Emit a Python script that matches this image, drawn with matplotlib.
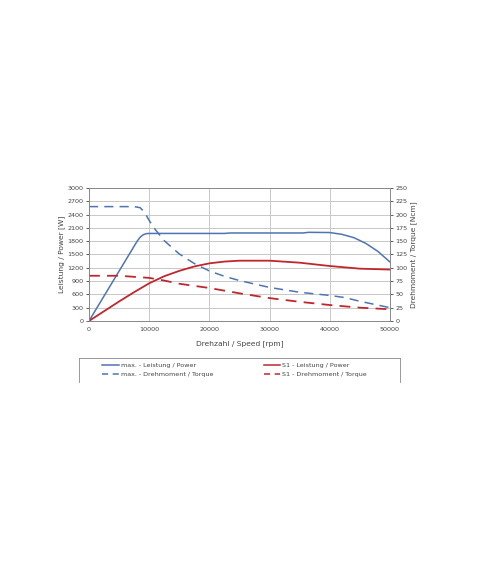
import matplotlib
matplotlib.use('Agg')
import matplotlib.pyplot as plt
from matplotlib.lines import Line2D

# max. power [W]
max_p_rpm = [0, 8000, 8500, 9000, 9500, 10000, 22500, 23500, 35500, 36500, 40000, 42000, 44000, 46000, 48000, 50000]
max_p = [0, 1800, 1890, 1945, 1970, 1975, 1975, 1985, 1985, 2000, 1995, 1955, 1880, 1750, 1570, 1330]

# max. torque [Ncm]
max_t_rpm = [0, 5000, 7500, 8500, 9000, 9500, 10000, 11000, 12500, 15000, 17500, 20000, 22500, 25000, 30000, 35000, 40000, 42500, 45000, 47500, 50000]
max_t = [215, 215, 215, 213, 207, 199, 189, 172, 151, 126, 108, 94, 84, 76, 63, 54, 48, 44, 37, 31, 25]

# S1 power [W]
s1_p_rpm = [0, 2500, 5000, 7500, 10000, 12500, 15000, 17500, 20000, 22500, 25000, 30000, 35000, 40000, 45000, 50000]
s1_p = [0, 220, 440, 650, 850, 1010, 1130, 1230, 1300, 1340, 1360, 1360, 1315, 1240, 1180, 1160]

# S1 torque [Ncm]
s1_t_rpm = [0, 2500, 5000, 7500, 10000, 12500, 15000, 17500, 20000, 22500, 25000, 30000, 35000, 40000, 45000, 50000]
s1_t = [85, 85, 85, 83, 81, 76, 70, 66, 62, 57, 52, 43, 36, 30, 25, 22]

blue = '#4f74b3'
red = '#c0272d'
txt = '#444444'
fs = 4.6

fig = plt.figure(figsize=(4.8, 5.69), dpi=100)
ax = fig.add_axes([0.1854, 0.4359, 0.627, 0.2337])
ax2 = ax.twinx()

ax.plot(max_p_rpm, max_p, color=blue, lw=1.1)
ax.plot(s1_p_rpm, s1_p, color=red, lw=1.3)
ax2.plot(max_t_rpm, max_t, color=blue, lw=1.1, ls=(0, (6, 4)))
ax2.plot(s1_t_rpm, s1_t, color=red, lw=1.3, ls=(0, (6, 4)))

ax.set_xlim(0, 50000)
ax.set_ylim(0, 3000)
ax2.set_ylim(0, 250)
ax.set_xticks(range(0, 50001, 10000))
ax.set_yticks(range(0, 3001, 300))
ax2.set_yticks(range(0, 251, 25))
ax.grid(True, color='#c8c8c8', lw=0.7)
ax.set_axisbelow(True)

for a in (ax, ax2):
    a.tick_params(labelsize=fs, colors=txt, length=2, width=0.6, pad=2)
    for s in a.spines.values():
        s.set_color('#888888')
        s.set_linewidth(0.6)
ax.tick_params(axis='x', length=0, pad=4)

ax.set_xlabel('Drehzahl / Speed [rpm]', fontsize=5.4, color=txt, labelpad=6)
ax.set_ylabel('Leistung / Power [W]', fontsize=5.4, color=txt, labelpad=2)
ax2.set_ylabel('Drehmoment / Torque [Ncm]', fontsize=5.4, color=txt, labelpad=2)

# legend (proxy handles so the dashes fit the short handle)
handles = [Line2D([], [], color=blue, lw=1.1),
           Line2D([], [], color=blue, lw=1.1, ls=(0, (4, 3))),
           Line2D([], [], color=red, lw=1.1),
           Line2D([], [], color=red, lw=1.1, ls=(0, (4, 3)))]
labels = ['max. - Leistung / Power', 'max. - Drehmoment / Torque',
          'S1 - Leistung / Power', 'S1 - Drehmoment / Torque']
fig.legend(handles, labels, ncol=2, frameon=False, fontsize=fs,
           loc='upper left', bbox_to_anchor=(0.2008, 0.373),
           handlelength=2.6, handletextpad=0.3, columnspacing=7.9,
           labelspacing=0.55, labelcolor=txt)

# legend box, open at the bottom
x0, x1 = 79 / 480, 400 / 480
yt, yb = 1 - 358 / 569, 1 - 382 / 569
for xs, ys in [([x0, x0], [yb, yt]), ([x0, x1], [yt, yt]), ([x1, x1], [yt, yb])]:
    fig.add_artist(Line2D(xs, ys, color='#888888', lw=0.6, transform=fig.transFigure))

fig.savefig('out.png', dpi=100)
